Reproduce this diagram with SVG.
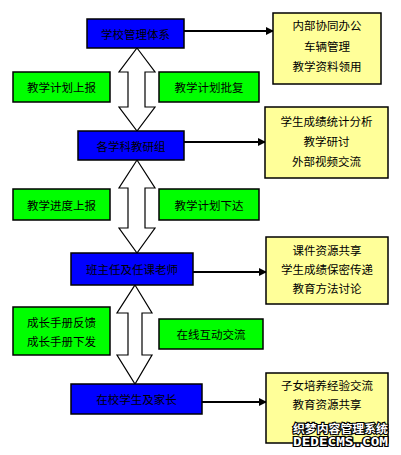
<svg xmlns="http://www.w3.org/2000/svg" width="401" height="455" viewBox="0 0 401 455">
<defs>
<style>
.blue{fill:#0000FF;stroke:#000;stroke-width:1.5}
.green{fill:#00FF00;stroke:#000;stroke-width:1.5}
.yellow{fill:#FFFF99;stroke:#000;stroke-width:1.5}
.dbl{fill:#fff;stroke:#000;stroke-width:1.2}
text{font-family:"Noto Sans CJK SC","Noto Sans CJK JP",sans-serif;font-size:11.5px;fill:#000;text-anchor:middle;dominant-baseline:central}
.conn{stroke:#000;stroke-width:2;fill:none;marker-end:url(#ah)}
.wm{font-family:"Noto Sans CJK SC",sans-serif;font-weight:bold;fill:#fff;stroke:#000;stroke-width:2.2;paint-order:stroke;text-anchor:start}
</style>
<marker id="ah" markerWidth="8" markerHeight="8" refX="7" refY="4" orient="auto" markerUnits="userSpaceOnUse">
<path d="M0,0 L8,4 L0,8 Z" fill="#000"/>
</marker>
</defs>
<rect width="401" height="455" fill="#fff"/>
<g id="connectors">
<path class="conn" d="M184,31 H273"/>
<path class="conn" d="M184,142 H265"/>
<path class="conn" d="M193,272 H266"/>
<path class="conn" d="M202,402 H266"/>
<polygon class="dbl" points="137,48 155,72 145,72 145,107 155,107 137,131 119,107 128,107 128,72 119,72"/>
<polygon class="dbl" points="137,160 155,188 145,188 145,228 155,228 137,253 119,228 128,228 128,188 119,188"/>
<polygon class="dbl" points="135,285 152,313 142,313 142,355 152,355 135,384 117,355 128,355 128,313 117,313"/>
</g>
<g id="n1"><rect class="blue" x="87" y="19" width="97" height="29"/><text x="135.5" y="33.5">学校管理体系</text></g>
<g id="n1r"><rect class="yellow" x="273" y="13" width="108" height="71"/><text x="327" y="25">内部协同办公</text><text x="327" y="46">车辆管理</text><text x="327" y="66">教学资料领用</text></g>
<g id="g1a"><rect class="green" x="13" y="72" width="97" height="30"/><text x="61.5" y="87">教学计划上报</text></g>
<g id="g1b"><rect class="green" x="159" y="72" width="100" height="30"/><text x="209" y="87">教学计划批复</text></g>
<g id="n2"><rect class="blue" x="78" y="131" width="106" height="29"/><text x="131" y="145.5">各学科教研组</text></g>
<g id="n2r"><rect class="yellow" x="265" y="107" width="123" height="71"/><text x="326.5" y="121">学生成绩统计分析</text><text x="326.5" y="141">教学研讨</text><text x="326.5" y="161">外部视频交流</text></g>
<g id="g2a"><rect class="green" x="13" y="189" width="97" height="31"/><text x="61.5" y="204.5">教学进度上报</text></g>
<g id="g2b"><rect class="green" x="159" y="189" width="100" height="31"/><text x="209" y="204.5">教学计划下达</text></g>
<g id="n3"><rect class="blue" x="71" y="253" width="122" height="32"/><text x="132" y="269">班主任及任课老师</text></g>
<g id="n3r"><rect class="yellow" x="266" y="237" width="122" height="67"/><text x="327" y="250">课件资源共享</text><text x="327" y="269">学生成绩保密传递</text><text x="327" y="288">教育方法讨论</text></g>
<g id="g3a"><rect class="green" x="13" y="307" width="97" height="48"/><text x="61.5" y="322">成长手册反馈</text><text x="61.5" y="341">成长手册下发</text></g>
<g id="g3b"><rect class="green" x="159" y="319" width="104" height="30"/><text x="211" y="334">在线互动交流</text></g>
<g id="n4"><rect class="blue" x="71" y="384" width="131" height="30"/><text x="136.5" y="399">在校学生及家长</text></g>
<g id="n4r"><rect class="yellow" x="266" y="373" width="122" height="70"/><text x="327" y="385">子女培养经验交流</text><text x="327" y="404">教育资源共享</text></g>
<g id="watermark">
<text class="wm" x="293" y="428" font-size="12" textLength="95" lengthAdjust="spacingAndGlyphs">织梦内容管理系统</text>
<text class="wm" x="293" y="442" font-size="12" textLength="95" lengthAdjust="spacingAndGlyphs" style="font-family:'DejaVu Sans Mono',monospace">DEDECMS.COM</text>
</g>
</svg>
